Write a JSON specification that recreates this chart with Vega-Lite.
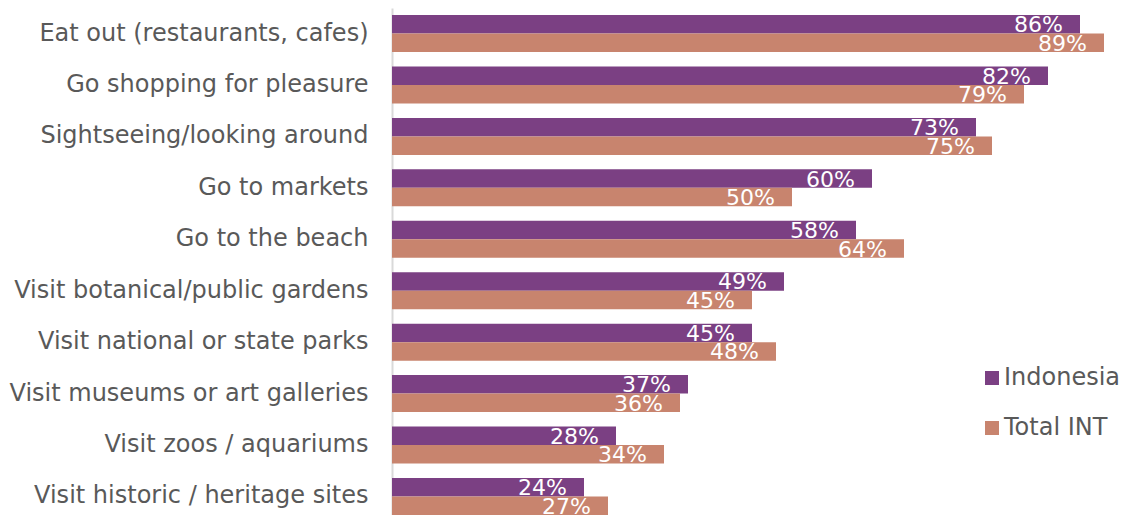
{
  "$schema": "https://vega.github.io/schema/vega-lite/v6.json",
  "width": 729,
  "height": 507,
  "autosize": "none",
  "padding": {"left": 392, "top": 8, "right": 0, "bottom": 0},
  "background": "white",
  "config": {
    "view": {"stroke": null},
    "font": "DejaVu Sans"
  },
  "data": {
    "values": [
      {"activity": "Eat out (restaurants, cafes)", "series": "Indonesia", "value": 0.86},
      {"activity": "Eat out (restaurants, cafes)", "series": "Total INT", "value": 0.89},
      {"activity": "Go shopping for pleasure", "series": "Indonesia", "value": 0.82},
      {"activity": "Go shopping for pleasure", "series": "Total INT", "value": 0.79},
      {"activity": "Sightseeing/looking around", "series": "Indonesia", "value": 0.73},
      {"activity": "Sightseeing/looking around", "series": "Total INT", "value": 0.75},
      {"activity": "Go to markets", "series": "Indonesia", "value": 0.60},
      {"activity": "Go to markets", "series": "Total INT", "value": 0.50},
      {"activity": "Go to the beach", "series": "Indonesia", "value": 0.58},
      {"activity": "Go to the beach", "series": "Total INT", "value": 0.64},
      {"activity": "Visit botanical/public gardens", "series": "Indonesia", "value": 0.49},
      {"activity": "Visit botanical/public gardens", "series": "Total INT", "value": 0.45},
      {"activity": "Visit national or state parks", "series": "Indonesia", "value": 0.45},
      {"activity": "Visit national or state parks", "series": "Total INT", "value": 0.48},
      {"activity": "Visit museums or art galleries", "series": "Indonesia", "value": 0.37},
      {"activity": "Visit museums or art galleries", "series": "Total INT", "value": 0.36},
      {"activity": "Visit zoos / aquariums", "series": "Indonesia", "value": 0.28},
      {"activity": "Visit zoos / aquariums", "series": "Total INT", "value": 0.34},
      {"activity": "Visit historic / heritage sites", "series": "Indonesia", "value": 0.24},
      {"activity": "Visit historic / heritage sites", "series": "Total INT", "value": 0.27}
    ]
  },
  "encoding": {
    "y": {
      "field": "activity",
      "type": "nominal",
      "sort": null,
      "scale": {"paddingInner": 0.28, "paddingOuter": 0.068, "align": 1},
      "axis": {
        "title": null,
        "ticks": false,
        "labelFontSize": 24,
        "labelColor": "#595959",
        "labelPadding": 24,
        "labelLimit": 500,
        "domainColor": "#D9D9D9",
        "domainWidth": 2
      }
    },
    "yOffset": {"field": "series", "type": "nominal", "sort": ["Indonesia", "Total INT"]},
    "x": {
      "field": "value",
      "type": "quantitative",
      "scale": {"domain": [0, 0.91125], "nice": false, "zero": true},
      "axis": null
    }
  },
  "layer": [
    {
      "mark": {"type": "bar"},
      "encoding": {
        "color": {
          "field": "series",
          "type": "nominal",
          "sort": ["Indonesia", "Total INT"],
          "scale": {"domain": ["Indonesia", "Total INT"], "range": ["#7B4083", "#C8846E"]},
          "legend": {
            "title": null,
            "orient": "none",
            "legendX": 588,
            "legendY": 358,
            "symbolType": "square",
            "symbolSize": 196,
            "symbolStrokeWidth": 0,
            "labelFontSize": 24,
            "labelColor": "#595959",
            "labelOffset": 0,
            "rowPadding": 26
          }
        }
      }
    },
    {
      "mark": {"type": "text", "align": "right", "baseline": "alphabetic", "dx": -17, "dy": 8, "fontSize": 22, "color": "white"},
      "encoding": {
        "text": {"field": "value", "type": "quantitative", "format": ".0%"}
      }
    }
  ]
}
